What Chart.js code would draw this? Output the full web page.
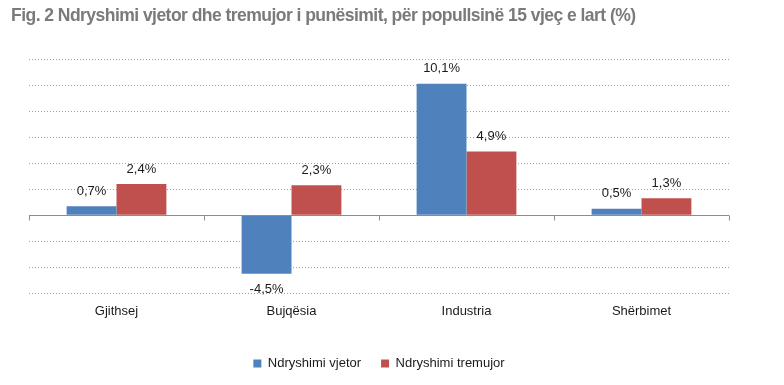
<!DOCTYPE html>
<html>
<head>
<meta charset="utf-8">
<script src="https://cdn.jsdelivr.net/npm/chart.js@4"></script>
<style>
  html, body { margin:0; padding:0; background:#fff; }
  #wrap { width:784px; height:385px; position:relative; }
  #titulli {
    position:absolute; left:11px; top:4px; white-space:nowrap;
    font: bold 19px "Liberation Sans", Arial, sans-serif;
    color:#7a7a7a; letter-spacing:-0.6px;
    transform-origin: 0 0;
  }
</style>
</head>
<body>
<div id="wrap">
  <div id="titulli"></div>
  <canvas id="chartFig2"></canvas>
</div>
<script>
// Të dhënat
const kategorite = ['Gjithsej', 'Bujqësia', 'Industria', 'Shërbimet'];
const vjetor     = [0.7, -4.5, 10.1, 0.5];
const tremujor   = [2.4, 2.3, 4.9, 1.3];
const serite     = ['Ndryshimi vjetor', 'Ndryshimi tremujor'];
const titulli    = 'Fig. 2 Ndryshimi vjetor dhe tremujor i punësimit, për popullsinë 15 vjeç e lart (%)';

const BLU = '#4f81bd', KUQ = '#c0504d';
const fmtPct = v => v.toFixed(1).replace('.', ',') + '%';

// titulli: shkronja e ngushtuar si në origjinal (rreth 625px gjerësi)
const tEl = document.getElementById('titulli');
tEl.textContent = titulli;
tEl.style.transform = 'scaleX(' + (625 / tEl.offsetWidth).toFixed(3) + ')';

// vija e zeros + vijat e vogla te kufijte e kategorive
const zeroLine = {
  id: 'zeroLine',
  afterDatasetsDraw(chart) {
    const { ctx, chartArea: a, scales: { x, y } } = chart;
    const y0 = Math.round(y.getPixelForValue(0)) + 0.5;
    const half = (x.getPixelForValue(1) - x.getPixelForValue(0)) / 2;
    ctx.save();
    ctx.strokeStyle = '#8c8c8c';
    ctx.lineWidth = 1;
    ctx.beginPath();
    ctx.moveTo(a.left, y0); ctx.lineTo(a.right, y0);
    for (let i = 0; i <= kategorite.length; i++) {
      const px = Math.round(x.getPixelForValue(i) - half) + 0.5;
      ctx.moveTo(px, y0); ctx.lineTo(px, y0 + 5);
    }
    ctx.stroke();
    ctx.restore();
  }
};

// etiketat e vlerave mbi/nën shtyllat
const vlerat = {
  id: 'vlerat',
  afterDatasetsDraw(chart) {
    const { ctx } = chart;
    ctx.save();
    ctx.font = '13px "Liberation Sans", Arial, sans-serif';
    ctx.fillStyle = '#1a1a1a';
    ctx.textAlign = 'center';
    ctx.textBaseline = 'middle';
    chart.data.datasets.forEach((ds, di) => {
      chart.getDatasetMeta(di).data.forEach((bar, i) => {
        const v = ds.data[i];
        const ty = v >= 0 ? bar.y - 15 : bar.y + 16;
        ctx.fillText(fmtPct(v), bar.x, ty);
      });
    });
    ctx.restore();
  }
};

new Chart(document.getElementById('chartFig2'), {
  type: 'bar',
  data: {
    labels: kategorite,
    datasets: [
      { label: serite[0], data: vjetor,   backgroundColor: BLU, borderWidth: 0 },
      { label: serite[1], data: tremujor, backgroundColor: KUQ, borderWidth: 0 }
    ]
  },
  options: {
    responsive: true, maintainAspectRatio: false, animation: false,
    datasets: { bar: { categoryPercentage: 0.57, barPercentage: 1 } },
    layout: { padding: { left: 29, right: 55, top: 59, bottom: 5 } },
    plugins: {
      title: { display: false },
      legend: {
        position: 'bottom',
        labels: {
          boxWidth: 8, boxHeight: 8, padding: 20,
          color: '#1a1a1a',
          font: { family: '"Liberation Sans", Arial, sans-serif', size: 13 }
        }
      },
      tooltip: { enabled: false }
    },
    scales: {
      x: {
        grid: { display: false },
        border: { display: false },
        ticks: { color: '#1a1a1a', font: { family: '"Liberation Sans", Arial, sans-serif', size: 13 }, padding: 2 },
        afterFit: s => { s.height += 16; }
      },
      y: {
        min: -6, max: 12,
        ticks: { display: false, stepSize: 2 },
        grid: { color: '#a0a0a0', drawTicks: false, lineWidth: 1 },
        border: { display: false, dash: [1, 2] }
      }
    }
  },
  plugins: [zeroLine, vlerat]
});
</script>
</body>
</html>
